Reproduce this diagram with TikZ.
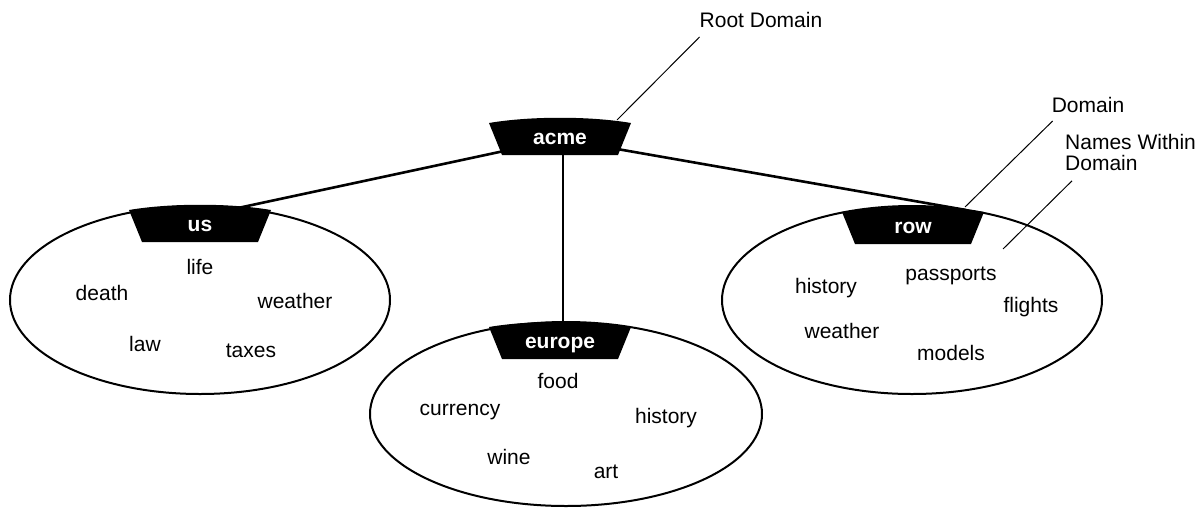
\documentclass[tikz,border=0pt]{standalone}
\usepackage{fontspec}
\setmainfont{Liberation Sans}
\usetikzlibrary{calc,backgrounds}
\tikzset{
  lbl/.style={font=\fontsize{21}{21}\selectfont, anchor=base, inner sep=0pt},
  dom/.style={font=\fontsize{21}{21}\selectfont\bfseries, text=white, inner sep=0pt,
              text height=11pt, text depth=0pt, minimum width=118pt, minimum height=32pt},
  link/.style={line width=2.6pt},
  leader/.style={line width=1pt},
  domring/.style={line width=2pt},
  trap/.pic={\fill (-71,-16) .. controls (-30,-23) and (30,-23) .. (71,-16) -- (58,16) -- (-58,16) -- cycle;}
}
\newcommand\domnode[3]{\pic at (#2) {trap}; \node[dom] (#1) at (#2) {#3};}
\begin{document}
\begin{tikzpicture}[x=1pt,y=-1pt]
\useasboundingbox (0,0) rectangle (1202,507);

% domains
\domnode{acme}{560,139}{acme}
\domnode{us}{200,226}{us}
\domnode{europe}{560,343}{europe}
\domnode{row}{913,228}{row}

% names within domains
\node[lbl] (us1) at (200,274) {life};
\node[lbl] (us2) at (102,300) {death};
\node[lbl] (us3) at (295,308) {weather};
\node[lbl] (us4) at (145,351) {law};
\node[lbl] (us5) at (251,357) {taxes};

\node[lbl] (eu1) at (558,388) {food};
\node[lbl] (eu2) at (460,415) {currency};
\node[lbl] (eu3) at (666,423) {history};
\node[lbl] (eu4) at (509,464) {wine};
\node[lbl] (eu5) at (606,478) {art};

\node[lbl] (rw1) at (826,293) {history};
\node[lbl] (rw2) at (951,280) {passports};
\node[lbl] (rw3) at (1031,312) {flights};
\node[lbl] (rw4) at (842,338) {weather};
\node[lbl] (rw5) at (951,360) {models};

% callout labels
\node[lbl] (rootlbl) at (761,27) {Root Domain};
\node[lbl] (domlbl) at (1088,112) {Domain};
\node[font=\fontsize{21}{21}\selectfont, inner sep=0pt, align=left, anchor=north west] (nameslbl) at (1065,134) {Names Within\\Domain};
\coordinate (namespt) at (1003,249);

\begin{scope}[on background layer]
  \draw[domring] (200,300) ellipse [x radius=190, y radius=94];
  \draw[domring] (566,414) ellipse [x radius=196, y radius=92];
  \draw[domring] (912,300) ellipse [x radius=190, y radius=94];
  \draw[link] (acme.center) -- ($(us.center)+(38,-18)$);
  \draw[link] (acme.center) -- ($(row.center)+(53,-18)$);
  \draw[link] ($(acme.center)+(3,0)$) -- ($(europe.center)+(3,0)$);
\end{scope}

\draw[leader] ($(rootlbl.base west)+(0,10)$) -- ($(acme.center)+(57,-19)$);
\draw[leader] ($(domlbl.base west)+(1,9)$) -- ($(row.center)+(52,-21)$);
\draw[leader] ($(nameslbl.south west)+(7,10)$) -- (namespt);
\end{tikzpicture}
\end{document}
